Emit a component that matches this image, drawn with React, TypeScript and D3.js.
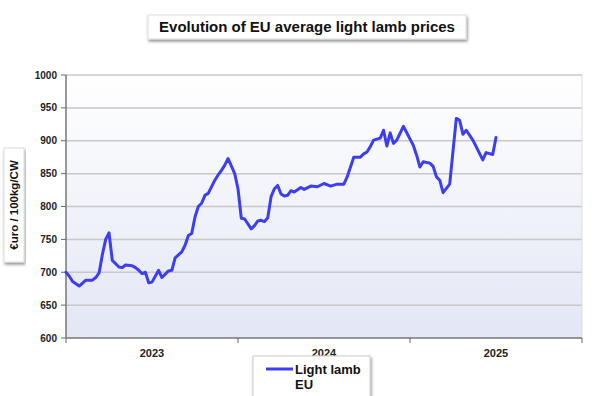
import * as d3 from 'd3'

// week index counted from the first week of 2023, price in EUR/100kg CW
const weeks = [
  0, 1, 2, 4, 6, 8, 9, 10, 11, 12, 13, 14, 16, 17, 18, 20, 21, 22, 23, 24, 25, 26, 28, 29, 31,
  32, 33, 35, 36, 37, 38, 39, 40, 41, 42, 43, 45, 46, 47, 48, 49, 51, 52, 53, 54, 56, 57, 58,
  59, 60, 61, 62, 63, 64, 65, 66, 67, 68, 69, 71, 72, 74, 76, 78, 80, 82, 84, 85, 87, 89, 90,
  91, 92, 93, 95, 96, 97, 98, 99, 100, 102, 105, 106, 107, 108, 110, 111, 112, 113, 114, 116,
  118, 119, 120, 121, 123, 124, 126, 127, 129, 130,
]
const prices = [
  700, 694, 686, 679, 688, 688, 692, 699, 727, 750, 760, 718, 708, 707, 711, 710, 707, 703,
  698, 700, 684, 685, 703, 692, 702, 703, 722, 731, 741, 756, 759, 784, 800, 805, 817, 820,
  840, 848, 855, 863, 873, 850, 827, 782, 781, 766, 771, 778, 779, 777, 783, 815, 827, 832,
  819, 816, 817, 824, 822, 829, 826, 831, 830, 835, 831, 834, 834, 845, 875, 875, 880, 883,
  891, 901, 904, 916, 892, 912, 896, 901, 922, 893, 878, 860, 868, 866, 861, 845, 840, 821,
  834, 934, 931, 910, 916, 901, 891, 871, 882, 879, 905,
]
const years = ['2023', '2024', '2025']
const yTicks = [600, 650, 700, 750, 800, 850, 900, 950, 1000]
const title = 'Evolution of EU average light lamb prices'
const yLabel = '€uro / 100kg/CW'
const seriesName = ['Light lamb', 'EU']

const W = 600
const H = 396
const margin = { top: 75, right: 18, bottom: 58, left: 66 }
const lineColor = '#3d3df2'

export default function App() {
  const w = W - margin.left - margin.right
  const h = H - margin.top - margin.bottom
  const x = d3.scaleLinear().domain([0, 52 * years.length]).range([0, w])
  const y = d3.scaleLinear().domain([600, 1000]).range([h, 0])
  const band = d3.scaleBand().domain(years).range([0, w])
  const data = weeks.map((wk, i) => ({ wk, v: prices[i] }))
  const line = d3
    .line<{ wk: number; v: number }>()
    .x(d => x(d.wk))
    .y(d => y(d.v))

  const font = 'Arial, "Liberation Sans", sans-serif'

  return (
    <svg
      width={W}
      height={H}
      style={{ position: 'absolute', left: 0, top: 0, background: '#fff' }}
      fontFamily={font}
    >
      <defs>
        <linearGradient id="bg" x1="0" x2="0" y1="0" y2="1">
          <stop offset="0%" stopColor="#ffffff" />
          <stop offset="100%" stopColor="#e3e7f5" />
        </linearGradient>
        <filter id="sh" x="-10%" y="-30%" width="120%" height="180%">
          <feDropShadow dx="1" dy="2" stdDeviation="1.5" floodColor="#000" floodOpacity="0.45" />
        </filter>
      </defs>

      {/* title */}
      <rect x={148} y={15} width={318} height={24} fill="#fff" stroke="#ddd" filter="url(#sh)" />
      <text x={307} y={32} textAnchor="middle" fontWeight="bold" fontSize={15} fill="#111">
        {title}
      </text>

      {/* y label */}
      <rect x={4} y={148} width={20} height={114} fill="#fff" stroke="#ddd" filter="url(#sh)" />
      <text
        transform={`translate(18,205) rotate(-90)`}
        textAnchor="middle"
        fontWeight="bold"
        fontSize={11.5}
        fill="#111"
      >
        {yLabel}
      </text>

      <g transform={`translate(${margin.left},${margin.top})`}>
        <rect width={w} height={h} fill="url(#bg)" />
        {yTicks.map(t => (
          <g key={t} transform={`translate(0,${y(t)})`}>
            {t > 600 && <line x2={w} stroke="#c8c8c8" strokeWidth={1.5} />}
            <line x1={-5} x2={0} stroke="#666" />
            <text x={-9} dy="0.35em" textAnchor="end" fontSize={10} fontWeight="bold" fill="#222">
              {t}
            </text>
          </g>
        ))}
        <line x1={w} x2={w} y1={0} y2={h} stroke="#ddd" />
        <line y2={h} stroke="#777" strokeWidth={1.5} />
        <line y1={h} y2={h} x2={w} stroke="#777" strokeWidth={1.5} />
        {d3.range(years.length + 1).map(i => (
          <line key={i} x1={x(i * 52)} x2={x(i * 52)} y1={h} y2={h + 5} stroke="#666" />
        ))}
        {years.map(yr => (
          <text
            key={yr}
            x={(band(yr) ?? 0) + band.bandwidth() / 2}
            y={h + 19}
            textAnchor="middle"
            fontSize={11}
            fontWeight="bold"
            fill="#222"
          >
            {yr}
          </text>
        ))}
        <path
          d={line(data) ?? ''}
          fill="none"
          stroke={lineColor}
          strokeWidth={3}
          strokeLinejoin="round"
          strokeLinecap="round"
        />
      </g>

      {/* legend */}
      <rect x={253} y={356} width={117} height={44} fill="#fff" stroke="#ccc" filter="url(#sh)" />
      <line x1={266} x2={293} y1={369} y2={369} stroke={lineColor} strokeWidth={3} />
      <text x={295} y={374} fontSize={13} fontWeight="bold" fill="#111">
        {seriesName[0]}
      </text>
      <text x={295} y={389} fontSize={13} fontWeight="bold" fill="#111">
        {seriesName[1]}
      </text>
    </svg>
  )
}
